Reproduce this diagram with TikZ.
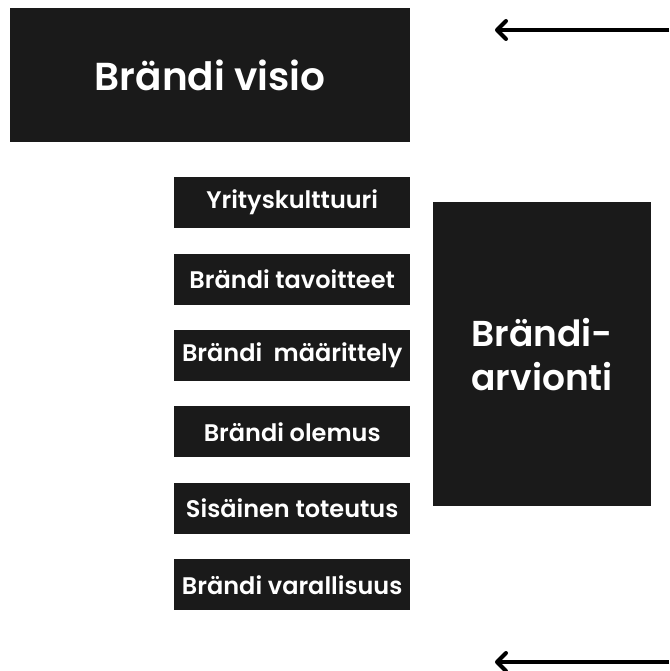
\documentclass[tikz,border=0pt]{standalone}
\usepackage{fontspec}
\setmainfont{Poppins}[BoldFont=Poppins SemiBold]
\usepackage{xcolor}
\usepackage{tikz}
\usetikzlibrary{positioning, arrows.meta}

\definecolor{boxblack}{HTML}{1A1A1A}

\tikzset{
    box/.style={fill=boxblack, text=white, font=\bfseries\fontsize{24}{27}\selectfont,
        inner sep=0pt, minimum width=236pt, minimum height=51pt},
    back arrow/.style={line width=4pt, -{Straight Barb[length=9pt, width=18pt, round]}}
}

\begin{document}
\begin{tikzpicture}[x=1pt, y=-1pt, node distance=25pt]
        \useasboundingbox (0,0) rectangle (669,671);

        \node[fill=boxblack, text=white, font=\bfseries\fontsize{39}{44}\selectfont,
              inner sep=0pt, minimum width=400pt, minimum height=134pt,
              anchor=north west] (visio) at (10,8) {Brändi visio};

        \node[box, anchor=north west]   (kulttuuri)  at (174,177) {Yrityskulttuuri};
        \node[box, below=of kulttuuri]  (tavoitteet) {Brändi tavoitteet};
        \node[box, below=of tavoitteet] (maarittely) {Brändi\ \ määrittely};
        \node[box, below=of maarittely] (olemus)     {Brändi olemus};
        \node[box, below=of olemus]     (toteutus)   {Sisäinen toteutus};
        \node[box, below=of toteutus]   (varallisuus) {Brändi varallisuus};

        \node[fill=boxblack, text=white, font=\bfseries\fontsize{36}{44}\selectfont,
              align=center, inner sep=0pt, minimum width=218pt, minimum height=304pt,
              anchor=north west] (arviointi) at (433,202) {Brändi-\\arvionti};

        \coordinate (top start) at (669,30);
        \coordinate (top end)   at (495,30);
        \coordinate (bottom start) at (669,662);
        \coordinate (bottom end)   at (495,662);

        \draw[back arrow] (top start) -- (top end);
        \draw[back arrow] (bottom start) -- (bottom end);
\end{tikzpicture}
\end{document}
